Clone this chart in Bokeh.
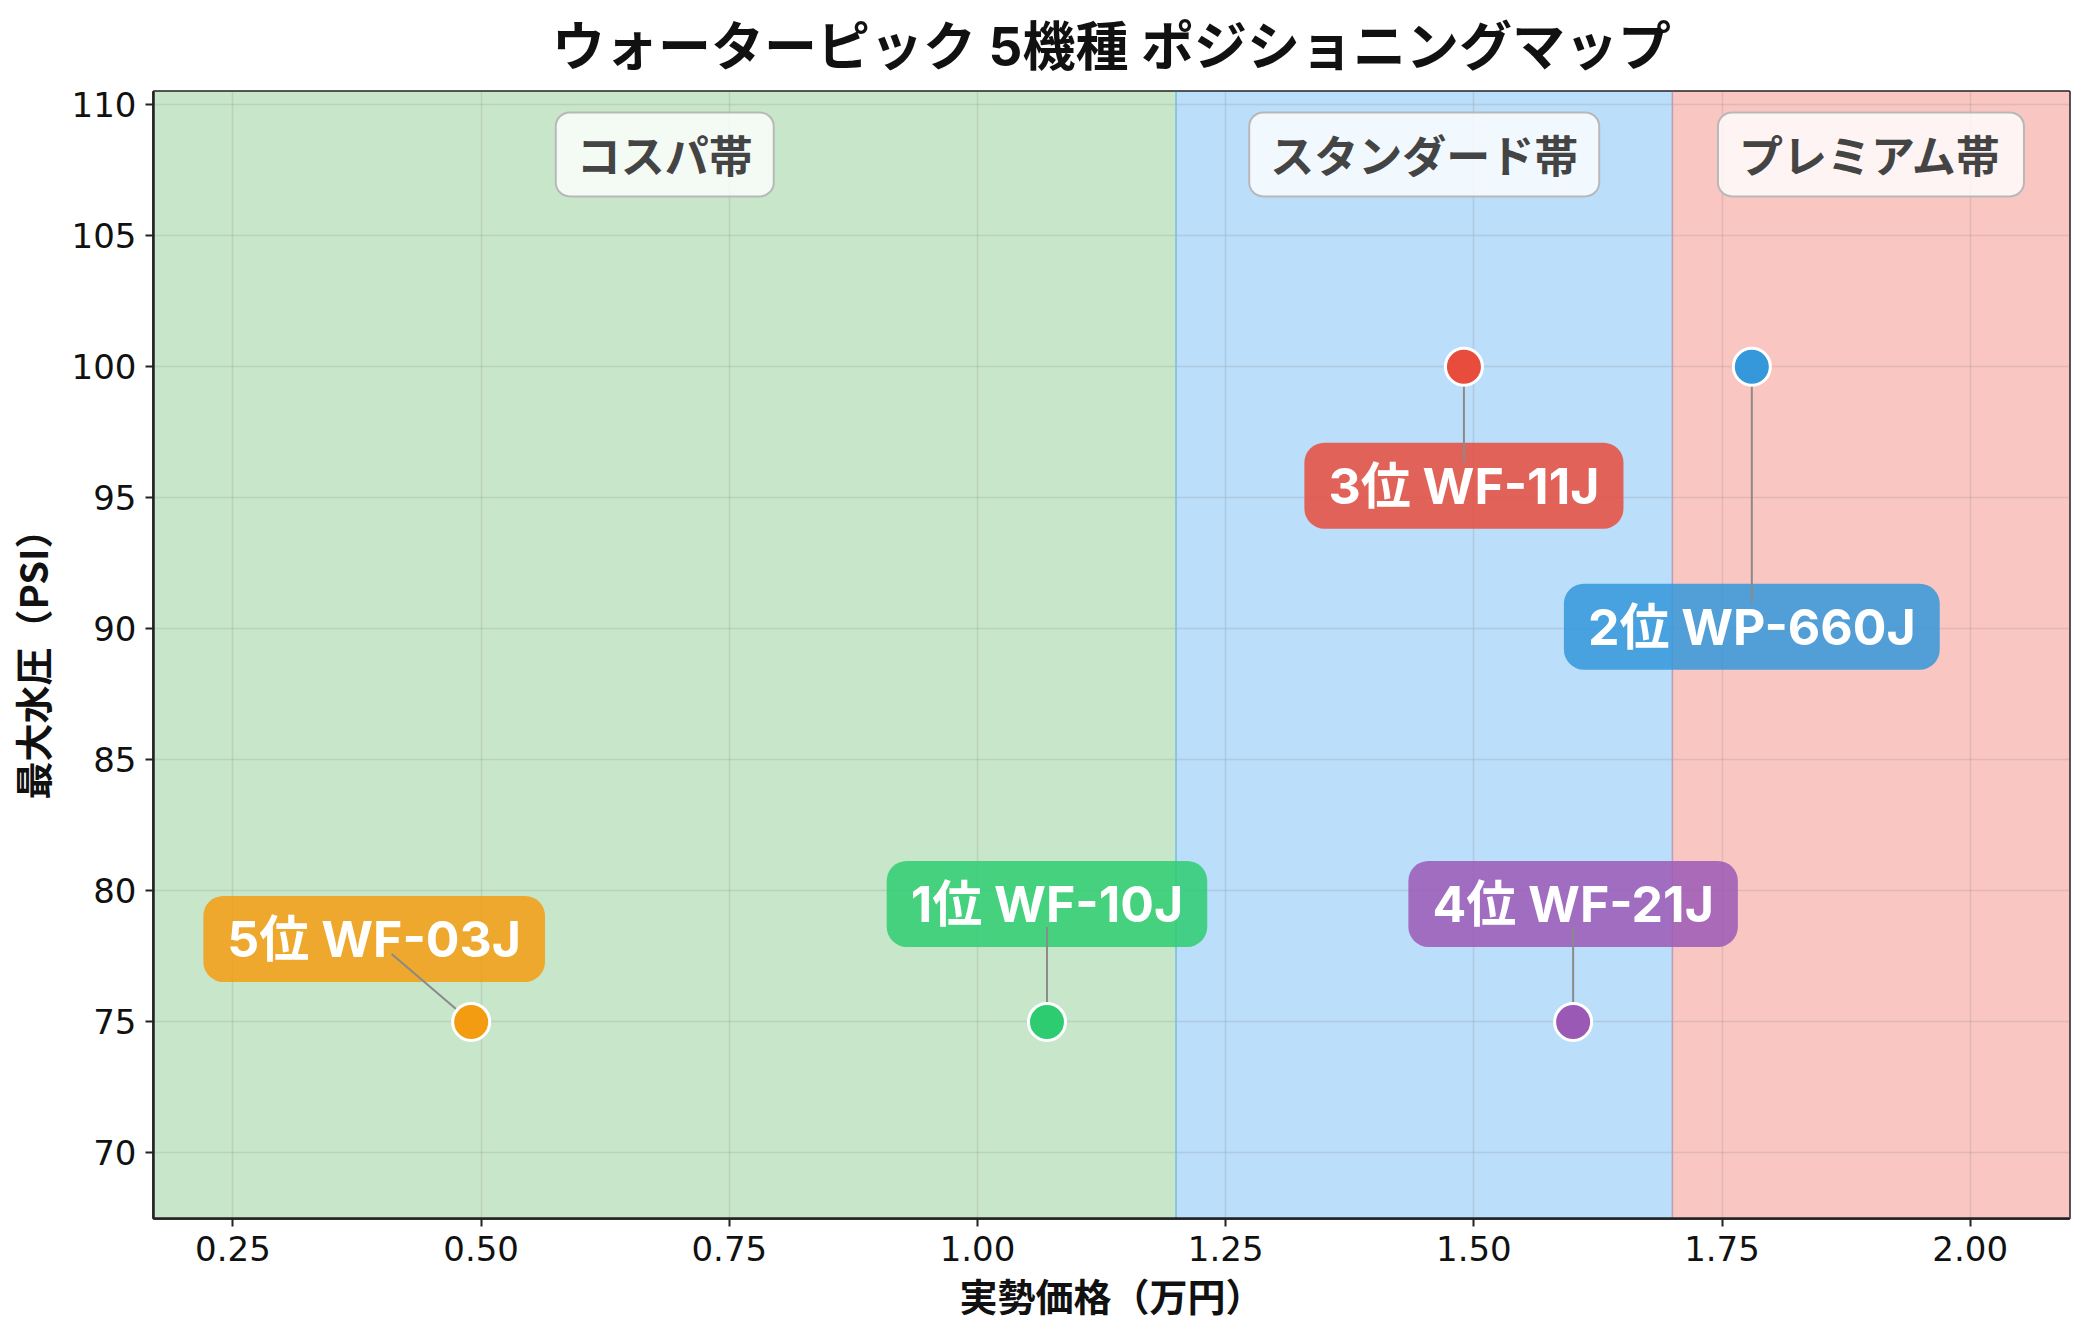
import math
from bokeh.plotting import figure
from bokeh.models import Range1d, FixedTicker, NumeralTickFormatter, BoxAnnotation, Label, Span
from bokeh.embed import file_html
from bokeh.resources import INLINE

# ---- data ----
ranks = ["1位", "2位", "3位", "4位", "5位"]
models = ["WF-10J", "WP-660J", "WF-11J", "WF-21J", "WF-03J"]
prices = [1.07, 1.78, 1.49, 1.60, 0.49]          # 万円
pressures = [75, 100, 100, 75, 75]               # PSI
colors = ["#2ecc71", "#3498db", "#e74c3c", "#9b59b6", "#f39c12"]

zone_names = ["コスパ帯", "スタンダード帯", "プレミアム帯"]
zone_edges = [1.2, 1.7]
zone_fills = ["#c8e6c9", "#bbdefa", "#fac6c2"]
zone_edge_colors = ["#79bcd9", "#b9a0b6"]

x_ticks = [0.25, 0.50, 0.75, 1.00, 1.25, 1.50, 1.75, 2.00]
y_ticks = [70, 75, 80, 85, 90, 95, 100, 105, 110]

title_text = "ウォーターピック 5機種 ポジショニングマップ"
x_label = "実勢価格（万円）"
y_label = "最大水圧（PSI）"

# ---- layout / style ----
W, H = 2084, 1334
BL, BR, BT, BB = 153, 15, 90, 116
X_RANGE = (0.17, 2.10)
Y_RANGE = (67.5, 110.5)
FRAME_W = W - BL - BR
FRAME_H = H - BT - BB
pxx = FRAME_W / (X_RANGE[1] - X_RANGE[0])
pxy = FRAME_H / (Y_RANGE[1] - Y_RANGE[0])

label_offsets = [(0, 118), (0, -260), (0, -119), (0, 118), (-97, 83)]  # screen px
CONNECT_GAP = 23

CJK = "Noto Sans CJK JP"
MIX = "Inter, Noto Sans CJK JP"

p = figure(width=W, height=H, output_backend="svg", toolbar_location=None,
           x_range=Range1d(*X_RANGE), y_range=Range1d(*Y_RANGE),
           min_border_left=BL, min_border_right=BR, min_border_top=BT, min_border_bottom=BB)
p.background_fill_color = "white"
p.border_fill_color = "white"
p.outline_line_color = "#222222"
p.outline_line_width = 2.5

p.title.text = title_text
p.title.align = "center"
p.title.text_font = MIX
p.title.text_font_size = "53px"
p.title.text_font_style = "bold"
p.title.text_color = "#111111"
p.title.standoff = 25

# zones
bounds = [None] + zone_edges + [None]
for i, fc in enumerate(zone_fills):
    p.add_layout(BoxAnnotation(left=bounds[i], right=bounds[i + 1], fill_color=fc,
                               fill_alpha=1.0, line_color=None, level="image"))
for e, c in zip(zone_edges, zone_edge_colors):
    p.add_layout(Span(location=e, dimension="height", line_color=c, line_width=1.5, level="underlay"))

# zone labels
vis = [X_RANGE[0]] + zone_edges + [X_RANGE[1]]
for i, name in enumerate(zone_names):
    p.add_layout(Label(x=(vis[i] + vis[i + 1]) / 2, y=Y_RANGE[1] - 2.4, text=name,
                       text_align="center", text_baseline="middle",
                       text_font=CJK, text_font_size="44px", text_font_style="bold",
                       text_color="#444444",
                       background_fill_color="white", background_fill_alpha=0.8,
                       border_line_color="#b8b8b8", border_line_width=2,
                       border_radius=14, padding=(21, 10)))

# axes
for ax in (p.xaxis[0], p.yaxis[0]):
    ax.major_label_text_font = "DejaVu Sans"
    ax.major_label_text_font_size = "34px"
    ax.major_label_text_color = "#111111"
    ax.axis_label_text_font = CJK
    ax.axis_label_text_font_size = "38px"
    ax.axis_label_text_font_style = "bold"
    ax.axis_label_text_color = "#111111"
    ax.axis_line_color = "#222222"
    ax.axis_line_width = 2.5
    ax.major_tick_line_color = "#222222"
    ax.major_tick_line_width = 2
    ax.major_tick_out = 8
    ax.major_tick_in = 0
    ax.minor_tick_line_color = None
    ax.major_label_standoff = 9
p.xaxis.axis_label_standoff = 3
p.yaxis.axis_label_standoff = 10

p.xaxis.axis_label = x_label
p.yaxis.axis_label = y_label
p.xaxis.ticker = FixedTicker(ticks=x_ticks)
p.yaxis.ticker = FixedTicker(ticks=y_ticks)
p.xaxis.formatter = NumeralTickFormatter(format="0.00")
p.yaxis.formatter = NumeralTickFormatter(format="0")

for g in (p.xgrid[0], p.ygrid[0]):
    g.grid_line_color = "#888888"
    g.grid_line_alpha = 0.22
    g.grid_line_width = 1.5

# connectors
x1s, y1s = [], []
for (x, y), (dx, dy) in zip(zip(prices, pressures), label_offsets):
    L = math.hypot(dx, dy)
    ex = dx - dx / L * CONNECT_GAP
    ey = dy - dy / L * CONNECT_GAP
    x1s.append(x + ex / pxx)
    y1s.append(y + ey / pxy)
p.segment(x0=prices, y0=pressures, x1=x1s, y1=y1s, line_color="#8a8a8a",
          line_width=2, level="overlay")

p.scatter(x=prices, y=pressures, size=37, fill_color=colors, line_color="white",
          line_width=3, level="overlay")

# product labels
for x, y, r, m, c, (dx, dy) in zip(prices, pressures, ranks, models, colors, label_offsets):
    p.add_layout(Label(x=x, y=y, x_offset=dx, y_offset=dy, text=f"{r} {m}",
                       text_align="center", text_baseline="middle",
                       text_font=MIX, text_font_size="50px", text_font_style="bold",
                       text_color="white",
                       background_fill_color=c, background_fill_alpha=0.85,
                       border_radius=20, padding=(24, 13)))

open("out.html", "w").write(file_html(p, INLINE))
